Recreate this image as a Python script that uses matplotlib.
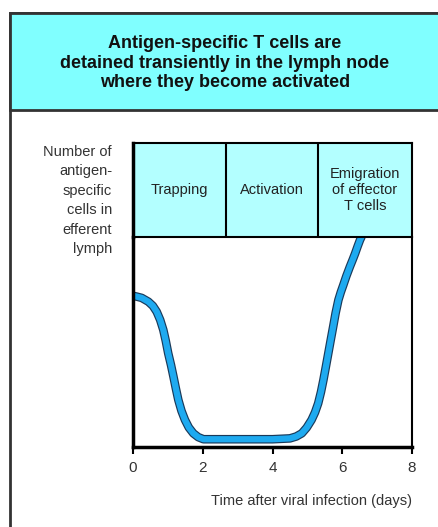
import matplotlib.pyplot as plt
import matplotlib.patheffects as pe
from matplotlib.patches import Rectangle

plt.rcParams['font.family'] = ['Liberation Sans', 'DejaVu Sans']

# cell counts in efferent lymph (arbitrary units) over days after infection
days = [0.0, 0.11, 0.25, 0.44, 0.57, 0.68, 0.78, 0.87, 0.94, 1.01, 1.09, 1.16,
        1.23, 1.30, 1.39, 1.49, 1.60, 1.73, 1.87, 2.02, 3.0, 4.0, 4.5, 4.68,
        4.84, 4.98, 5.12, 5.22, 5.31, 5.39, 5.46, 5.53, 5.60, 5.67, 5.74,
        5.81, 5.89, 5.96, 6.03, 6.12, 6.22, 6.30, 6.37, 6.44, 6.51, 6.55]
cells = [7.2, 7.16, 7.1, 6.92, 6.72, 6.44, 6.05, 5.57, 5.05, 4.46, 3.9, 3.35,
         2.78, 2.24, 1.72, 1.29, 0.93, 0.65, 0.47, 0.37, 0.37, 0.37, 0.41, 0.5,
         0.65, 0.92, 1.29, 1.65, 2.08, 2.62, 3.19, 3.82, 4.46, 5.1, 5.73,
         6.38, 7.0, 7.38, 7.71, 8.15, 8.59, 8.92, 9.22, 9.55, 9.86, 10.0]

phases = ['Trapping', 'Activation', 'Emigration\nof effector\nT cells']
phase_edges = [0, 2.67, 5.3, 8]
xticks = [0, 2, 4, 6, 8]

title = ('Antigen-specific T cells are\n'
         'detained transiently in the lymph node\n'
         'where they become activated')
ylabel = 'Number of\nantigen-\nspecific\ncells in\nefferent\nlymph'

W, H = 438, 527
fig = plt.figure(figsize=(W / 100, H / 100), dpi=100)

# outer frame and heading band
fig.patches.append(Rectangle((10 / W, -0.1), 1.2, 1 - 13 / H + 0.1,
                             transform=fig.transFigure, facecolor='white',
                             edgecolor='#333333', linewidth=2, zorder=-2))
fig.patches.append(Rectangle((10 / W, 1 - 110 / H), 1.2, 97 / H,
                             transform=fig.transFigure, facecolor='#80ffff',
                             edgecolor='#333333', linewidth=2, zorder=-1))
fig.text(225 / W, 1 - 63 / H, title, ha='center', va='center',
         fontsize=13, fontweight='bold', linespacing=1.2, color='#111111')

left, right = 133 / W, 412 / W
ax = fig.add_axes([left, 1 - 447 / H, right - left, 210 / H])
top = fig.add_axes([left, 1 - 237 / H, right - left, 94 / H])

# phase boxes
for i, name in enumerate(phases):
    top.axvspan(phase_edges[i], phase_edges[i + 1], color='#b3ffff', lw=0)
    if i > 0:
        top.axvline(phase_edges[i], color='black', lw=1.5)
    top.text((phase_edges[i] + phase_edges[i + 1]) / 2, 0.5, name,
             ha='center', va='center', fontsize=10.5, linespacing=1.22,
             color='#222222', transform=top.get_xaxis_transform())
top.set_xlim(0, 8)
top.set_ylim(0, 1)
top.set_xticks([])
top.set_yticks([])
for s in top.spines.values():
    s.set_linewidth(1.5)
top.spines['left'].set_linewidth(2.5)

# curve
ax.plot(days, cells, color='#1eaaf0', lw=4.5, solid_capstyle='round',
        solid_joinstyle='round',
        path_effects=[pe.Stroke(linewidth=6.2, foreground='#1a3a5a'), pe.Normal()])
ax.set_xlim(0, 8)
ax.set_ylim(0, 10)
ax.set_yticks([])
ax.set_xticks(xticks)
ax.tick_params(axis='x', direction='out', length=5, width=1.5,
               labelsize=11, pad=5, labelcolor='#333333')
ax.spines['top'].set_visible(False)
ax.spines['left'].set_linewidth(2.5)
ax.spines['bottom'].set_linewidth(2.5)
ax.spines['right'].set_linewidth(1.5)
ax.set_xlabel('Time after viral infection (days)', fontsize=10.5, color='#333333',
              loc='right', labelpad=14)

fig.text(112 / W, 1 - 145 / H, ylabel, ha='right', va='top', fontsize=10.5,
         linespacing=1.5, color='#333333')

fig.savefig('out.png', dpi=100)
